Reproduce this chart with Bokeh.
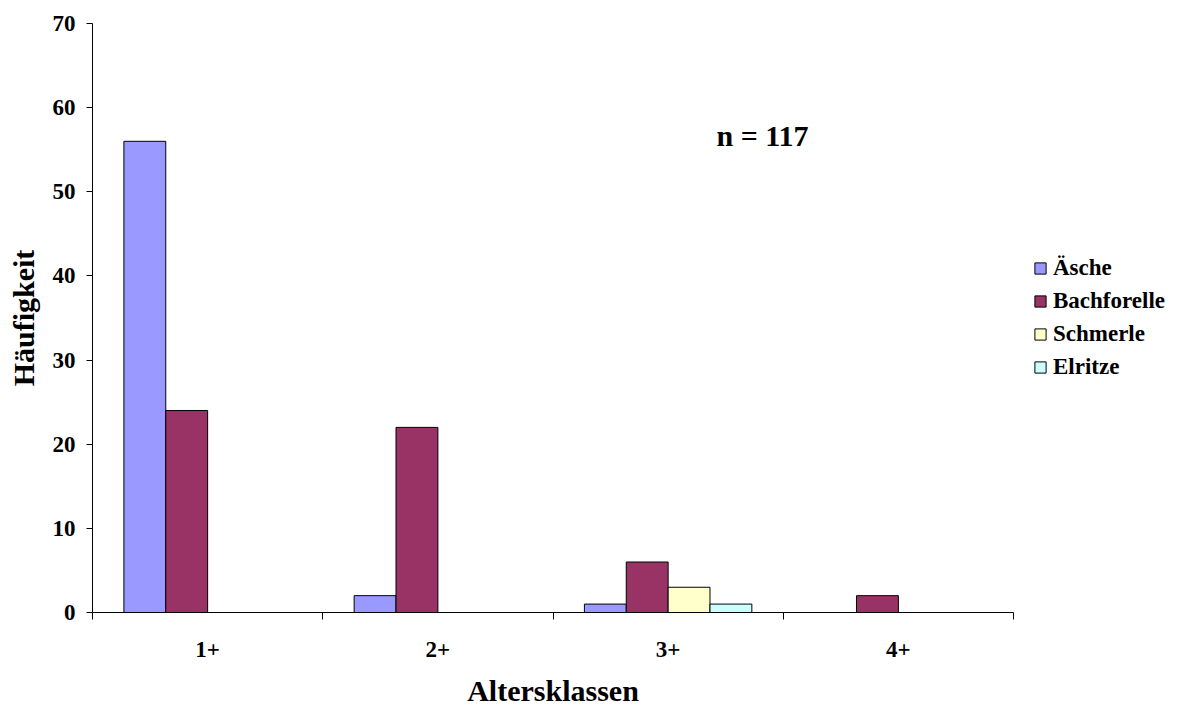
from bokeh.plotting import figure
from bokeh.models import FixedTicker, Legend, LegendItem, Label, ColumnDataSource
from bokeh.embed import file_html
from bokeh.resources import INLINE

# Altersklassen und Häufigkeiten je Fischart
klassen = ["1+", "2+", "3+", "4+"]
aesche = [56, 2, 1, 0]
bachforelle = [24, 22, 6, 2]
schmerle = [0, 0, 3, 0]
elritze = [0, 0, 1, 0]
n_gesamt = 117

arten = [
    ("Äsche", aesche, "#9999FF"),
    ("Bachforelle", bachforelle, "#993366"),
    ("Schmerle", schmerle, "#FFFFCC"),
    ("Elritze", elritze, "#CCFFFF"),
]

FONT = "Liberation Serif"

p = figure(
    frame_width=921, frame_height=589,
    x_range=(0, len(klassen)), y_range=(0, 70),
    output_backend="svg", toolbar_location=None,
    min_border_left=92, min_border_right=165,
    min_border_top=23, min_border_bottom=94,
)
p.outline_line_color = None
p.grid.visible = False
p.background_fill_color = "white"
p.border_fill_color = "white"

# Gruppierte Säulen: 4 Säulen pro Klasse, Lücke 150 %
bar_w = 1.0 / (len(arten) + 1.5)
items = []
for i, (name, werte, farbe) in enumerate(arten):
    off = (i - (len(arten) - 1) / 2) * bar_w
    xs = [k + 0.5 + off for k, v in enumerate(werte) if v > 0]
    ys = [v for v in werte if v > 0]
    src = ColumnDataSource(dict(x=xs, top=ys))
    r = p.vbar(x="x", top="top", bottom=0, width=bar_w, source=src,
               fill_color=farbe, line_color="black", line_width=1)
    items.append(LegendItem(label=name, renderers=[r]))

# x-Achse: Beschriftung in der Mitte, Striche an den Klassengrenzen
centers = [k + 0.5 for k in range(len(klassen))]
p.xaxis.ticker = FixedTicker(ticks=centers,
                             minor_ticks=list(range(len(klassen) + 1)))
p.xaxis.major_label_overrides = {c: lab for c, lab in zip(centers, klassen)}
p.xaxis.major_tick_out = 0
p.xaxis.major_tick_in = 0
p.xaxis.minor_tick_out = 7
p.xaxis.minor_tick_in = 0
p.xaxis.major_label_standoff = 22
p.xaxis.axis_label = "Altersklassen"
p.xaxis.axis_label_standoff = 14

p.yaxis.ticker = FixedTicker(ticks=list(range(0, 71, 10)))
p.yaxis.major_tick_out = 6
p.yaxis.major_tick_in = 0
p.yaxis.minor_tick_out = 0
p.yaxis.minor_tick_in = 0
p.yaxis.major_label_standoff = 11
p.yaxis.axis_label = "Häufigkeit"
p.yaxis.axis_label_standoff = 10

for ax in (p.xaxis, p.yaxis):
    ax.axis_line_color = "black"
    ax.major_tick_line_color = "black"
    ax.minor_tick_line_color = "black"
    ax.major_label_text_font = FONT
    ax.major_label_text_font_style = "bold"
    ax.major_label_text_font_size = "23px"
    ax.major_label_text_color = "black"
    ax.axis_label_text_font = FONT
    ax.axis_label_text_font_style = "bold"
    ax.axis_label_text_font_size = "30px"
    ax.axis_label_text_color = "black"

p.add_layout(Label(x=2.71, y=56.7, text=f"n = {n_gesamt}",
                   text_font=FONT, text_font_style="bold",
                   text_font_size="30px", text_baseline="alphabetic",
                   text_color="black"))

legend = Legend(items=items, location="center_left",
                label_text_font=FONT, label_text_font_style="bold",
                label_text_font_size="23px", label_text_color="black",
                glyph_width=14, glyph_height=14, label_height=33,
                label_standoff=6, spacing=0, padding=0, margin=20,
                border_line_alpha=0, background_fill_alpha=0)
p.add_layout(legend, "right")

open("out.html", "w").write(file_html(p, INLINE))
